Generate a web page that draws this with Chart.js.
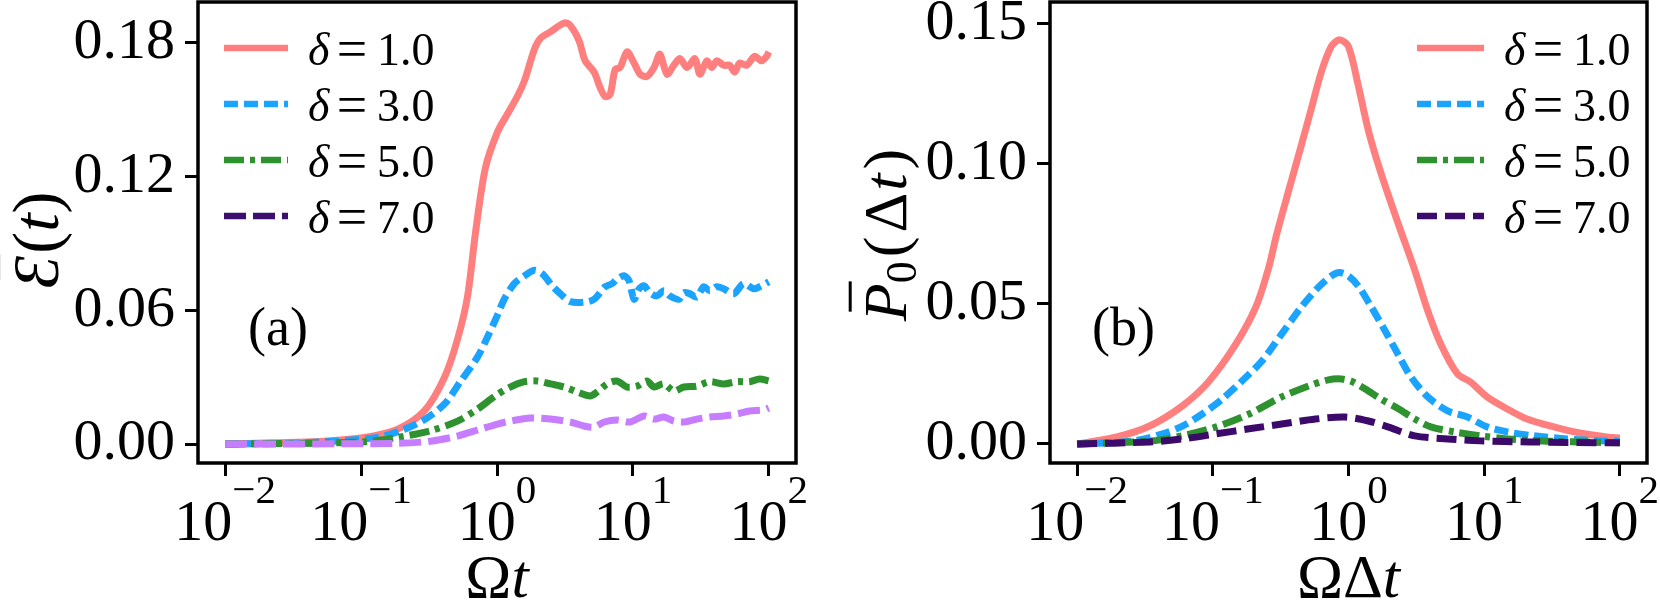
<!DOCTYPE html>
<html>
<head>
<meta charset="utf-8">
<script src="https://cdn.jsdelivr.net/npm/chart.js@4.4.0/dist/chart.umd.min.js"></script>
<style>
  html, body { margin: 0; padding: 0; background: #fff; }
  #wrap { position: relative; width: 1660px; height: 600px; overflow: hidden; }
  .panel { position: absolute; top: 0; width: 830px; height: 600px; }
  #panelA { left: 0; }
  #panelB { left: 830px; }
</style>
</head>
<body>
<div id="wrap">
  <div class="panel" id="panelA"><canvas id="chartA" width="830" height="600"></canvas></div>
  <div class="panel" id="panelB"><canvas id="chartB" width="830" height="600"></canvas></div>
</div>
<script>
// ticks
const xTicks = [0.01, 0.1, 1, 10, 100];
const xExp = ['\u22122', '\u22121', '0', '1', '2'];
const yTicksA = [0, 0.06, 0.12, 0.18];
const yTicksB = [0, 0.05, 0.10, 0.15];
const deltas = ['1.0', '3.0', '5.0', '7.0'];

// panel (a): energy vs Omega t
const aX1 = [0.01, 0.0221, 0.0498, 0.106, 0.186, 0.293, 0.411, 0.512, 0.606, 0.695, 0.822, 1.007, 1.19, 1.41, 1.59, 1.88, 2.08, 2.47, 3.12, 3.45, 4.02, 4.45, 5.18, 5.74, 6.24, 6.80, 7.39, 8.04, 9.05, 10.2, 11.3, 12.7, 14.3, 15.8, 17.8, 20.0, 22.2, 25.0, 28.6, 31.1, 35.0, 38.0, 41.4, 46.6, 51.5, 56.1, 61.0, 68.7, 78.6, 88.5, 96.3, 100];
const aY1 = [0, 0.0006, 0.0012, 0.003, 0.0067, 0.015, 0.030, 0.047, 0.066, 0.095, 0.124, 0.140, 0.148, 0.156, 0.163, 0.177, 0.182, 0.185, 0.189, 0.188, 0.181, 0.172, 0.167, 0.160, 0.156, 0.157, 0.168, 0.169, 0.176, 0.171, 0.166, 0.165, 0.169, 0.175, 0.166, 0.170, 0.173, 0.169, 0.173, 0.166, 0.172, 0.169, 0.172, 0.170, 0.170, 0.167, 0.171, 0.170, 0.174, 0.172, 0.174, 0.176];
const aX3 = [0.01, 0.0355, 0.133, 0.209, 0.293, 0.411, 0.538, 0.718, 0.851, 1.01, 1.13, 1.34, 1.59, 1.88, 2.15, 2.55, 2.92, 3.45, 4.37, 5.18, 6.24, 7.03, 7.64, 8.61, 9.36, 10.2, 11.1, 12.1, 13.3, 15.0, 16.9, 18.7, 21.8, 23.7, 26.2, 29.5, 33.2, 36.8, 41.4, 46.6, 55.2, 65.3, 77.3, 85.5, 100];
const aY3 = [0, 0.0005, 0.003, 0.0067, 0.011, 0.018, 0.028, 0.039, 0.048, 0.058, 0.065, 0.072, 0.0755, 0.078, 0.0765, 0.071, 0.0675, 0.064, 0.0637, 0.065, 0.0706, 0.072, 0.074, 0.0755, 0.0733, 0.065, 0.0697, 0.071, 0.068, 0.0665, 0.0688, 0.0665, 0.065, 0.068, 0.0675, 0.066, 0.0706, 0.0688, 0.0706, 0.0697, 0.0675, 0.072, 0.0697, 0.0706, 0.0728];
const aX5 = [0.01, 0.0355, 0.106, 0.186, 0.324, 0.512, 0.718, 0.972, 1.25, 1.59, 1.98, 2.47, 3.12, 3.89, 4.84, 5.46, 6.46, 7.64, 9.05, 10.7, 12.7, 14.3, 16.9, 20.0, 23.7, 29.5, 36.8, 46.6, 58.1, 72.3, 85.5, 100];
const aY5 = [0, 0.0003, 0.001, 0.003, 0.006, 0.0103, 0.0157, 0.0216, 0.0256, 0.028, 0.0283, 0.027, 0.0256, 0.0234, 0.0216, 0.0234, 0.027, 0.0283, 0.0256, 0.026, 0.0283, 0.0256, 0.027, 0.0238, 0.0256, 0.026, 0.028, 0.027, 0.028, 0.028, 0.0292, 0.0283];
const aX7 = [0.01, 0.186, 0.324, 0.512, 0.755, 1.01, 1.25, 1.76, 2.47, 3.45, 4.37, 5.18, 6.14, 7.64, 9.52, 12.1, 14.3, 16.9, 20.0, 23.7, 29.5, 36.8, 46.6, 58.1, 72.3, 91.6, 100];
const aY7 = [0, 0.0003, 0.0013, 0.0036, 0.0067, 0.009, 0.0103, 0.0117, 0.0112, 0.0099, 0.0081, 0.0076, 0.0099, 0.0108, 0.0099, 0.0126, 0.0112, 0.0121, 0.0103, 0.0099, 0.0112, 0.0121, 0.0126, 0.0135, 0.0148, 0.0153, 0.0162];

// panel (b): P0 vs Omega delta t
const bX1 = [0.01, 0.0196, 0.0342, 0.0597, 0.0941, 0.148, 0.208, 0.259, 0.296, 0.362, 0.451, 0.534, 0.632, 0.748, 0.857, 0.997, 1.18, 1.40, 1.74, 2.35, 3.08, 3.84, 4.78, 6.36, 7.93, 10.5, 14.8, 20.7, 32.6, 50.6, 79.7, 100];
const bY1 = [0, 0.0025, 0.0064, 0.0136, 0.0225, 0.0357, 0.049, 0.0632, 0.075, 0.0904, 0.107, 0.120, 0.133, 0.142, 0.1443, 0.142, 0.128, 0.112, 0.0965, 0.078, 0.062, 0.0475, 0.0357, 0.025, 0.0221, 0.0168, 0.0125, 0.0089, 0.0061, 0.0039, 0.0025, 0.0021];
const bX3 = [0.01, 0.0257, 0.0427, 0.0597, 0.0836, 0.117, 0.164, 0.230, 0.322, 0.451, 0.601, 0.748, 0.857, 0.997, 1.18, 1.47, 1.86, 2.32, 2.88, 3.84, 5.38, 7.53, 10.5, 14.8, 23.3, 40.6, 70.9, 100];
const bY3 = [0, 0.001, 0.0036, 0.0064, 0.0107, 0.016, 0.0225, 0.0296, 0.0393, 0.049, 0.056, 0.060, 0.0612, 0.060, 0.0564, 0.049, 0.0404, 0.032, 0.024, 0.0168, 0.0118, 0.0096, 0.0061, 0.0043, 0.0029, 0.0018, 0.0011, 0.001];
const bX5 = [0.01, 0.0342, 0.0597, 0.106, 0.185, 0.322, 0.508, 0.711, 0.885, 1.05, 1.33, 1.74, 2.35, 3.08, 4.04, 6.05, 9.38, 14.8, 29.0, 100];
const bY5 = [0, 0.001, 0.0029, 0.0061, 0.0107, 0.0168, 0.0207, 0.0229, 0.0232, 0.0224, 0.0196, 0.016, 0.0125, 0.0089, 0.0061, 0.0043, 0.0029, 0.0018, 0.001, 0.0004];
const bX7 = [0.01, 0.0342, 0.0597, 0.106, 0.185, 0.322, 0.571, 0.948, 1.40, 1.95, 3.08, 5.38, 9.38, 21.8, 100];
const bY7 = [0, 0.0007, 0.0018, 0.0036, 0.0054, 0.0071, 0.0089, 0.0096, 0.0082, 0.0061, 0.0029, 0.0018, 0.0011, 0.0007, 0.0004];

const serif = "'Liberation Serif', 'Times New Roman', serif";

function pts(xs, ys) {
    return xs.map((x, i) => ({ x: x, y: ys[i] }));
}

function line(label, data, color, dash, order) {
    return {
        label: label, data: data, borderColor: color, borderWidth: 7,
        borderDash: dash, pointRadius: 0, tension: 0.3, fill: false,
        borderJoinStyle: 'round', order: order
    };
}

// draw text made of several pieces (italic, sub/superscript, bar)
function drawRich(ctx, parts, x, y, align) {
    let w = 0;
    parts.forEach(p => {
        ctx.font = (p.italic ? 'italic ' : '') + p.size + 'px ' + serif;
        p.w = ctx.measureText(p.t).width;
        w += p.w + (p.gap || 0);
    });
    let cx = align === 'center' ? x - w / 2 : x;
    ctx.textAlign = 'left';
    ctx.textBaseline = 'alphabetic';
    parts.forEach(p => {
        ctx.font = (p.italic ? 'italic ' : '') + p.size + 'px ' + serif;
        ctx.fillText(p.t, cx, y + (p.dy || 0));
        if (p.bar) {
            ctx.save();
            ctx.lineWidth = 3;
            ctx.beginPath();
            ctx.moveTo(cx + p.w * 0.25, y - p.size * 0.9);
            ctx.lineTo(cx + p.w * 1.05, y - p.size * 0.9);
            ctx.stroke();
            ctx.restore();
        }
        cx += p.w + (p.gap || 0);
    });
}

const decor = {
    id: 'decor',
    afterDraw(chart, args, o) {
        const ctx = chart.ctx, area = chart.chartArea, xs = chart.scales.x;
        ctx.save();
        ctx.fillStyle = '#000';
        ctx.strokeStyle = '#000';
        // frame
        ctx.lineWidth = 3.5;
        ctx.strokeRect(area.left, area.top, area.right - area.left, area.bottom - area.top);
        // log tick labels
        xTicks.forEach((v, i) => {
            const px = xs.getPixelForValue(v);
            drawRich(ctx, [{ t: '10', size: 58 }, { t: xExp[i], size: 41, dy: -37 }], px, 540, 'center');
        });
        // axis titles
        drawRich(ctx, o.xTitle, (area.left + area.right) / 2, 597, 'center');
        ctx.save();
        ctx.translate(o.yTitleX, o.yTitleY);
        ctx.rotate(-Math.PI / 2);
        drawRich(ctx, o.yTitle, 0, 0, 'center');
        ctx.restore();
        // panel letter
        ctx.font = '54px ' + serif;
        ctx.textAlign = 'left';
        ctx.fillText(o.letter, o.letterX, 345);
        // legend
        chart.data.datasets.forEach((ds, i) => {
            const y = o.rows[i];
            ctx.save();
            ctx.strokeStyle = o.legendColors[i];
            ctx.lineWidth = 6.5;
            ctx.setLineDash(ds.borderDash || []);
            ctx.beginPath();
            ctx.moveTo(o.lineX0, y);
            ctx.lineTo(o.lineX1, y);
            ctx.stroke();
            ctx.restore();
            ctx.font = 'italic 46px ' + serif;
            ctx.textAlign = 'left';
            ctx.fillText('\u03b4', o.textX, y + 17);
            ctx.font = '54px ' + serif;
            ctx.textAlign = 'center';
            ctx.fillText('=', o.textX + 44, y + 19);
            ctx.font = '46px ' + serif;
            ctx.textAlign = 'left';
            ctx.fillText(deltas[i], o.textX + 69, y + 17);
        });
        ctx.restore();
    }
};

function makeChart(id, datasets, yMin, yMax, yTicks, yWidth, padRight, deco) {
    return new Chart(document.getElementById(id).getContext('2d'), {
        type: 'line',
        data: { datasets: datasets },
        plugins: [decor],
        options: {
            responsive: false,
            animation: false,
            layout: { padding: { left: 0, right: padRight, top: 2, bottom: 0 } },
            scales: {
                x: {
                    type: 'logarithmic', bounds: 'data',
                    min: Math.pow(10, -2.2), max: Math.pow(10, 2.2),
                    afterBuildTicks: s => { s.ticks = xTicks.map(v => ({ value: v })); },
                    afterFit: s => { s.height = 137; s.paddingLeft = 0; s.paddingRight = 0; },
                    ticks: { display: false },
                    border: { display: false },
                    grid: { drawOnChartArea: false, drawTicks: true, tickLength: 13, tickWidth: 3, tickColor: '#000' }
                },
                y: {
                    type: 'linear', bounds: 'data', min: yMin, max: yMax,
                    afterBuildTicks: s => { s.ticks = yTicks.map(v => ({ value: v })); },
                    afterFit: s => { s.width = yWidth; s.paddingTop = 0; s.paddingBottom = 0; },
                    ticks: {
                        color: '#000', padding: 10,
                        font: { family: serif, size: 58 },
                        callback: v => v.toFixed(2)
                    },
                    border: { display: false },
                    grid: { drawOnChartArea: false, drawTicks: true, tickLength: 13, tickWidth: 3, tickColor: '#000' }
                }
            },
            plugins: {
                legend: { display: false },
                tooltip: { enabled: false },
                decor: deco
            }
        }
    });
}

makeChart('chartA', [
    line('\u03b4 = 1.0', pts(aX1, aY1), '#ff7f7f', [], 4),
    line('\u03b4 = 3.0', pts(aX3, aY3), '#1aa3ff', [14, 6], 3),
    line('\u03b4 = 5.0', pts(aX5, aY5), '#2e932e', [20, 6, 5, 6], 2),
    line('\u03b4 = 7.0', pts(aX7, aY7), '#c77dff', [22, 7], 1)
], -0.0085, 0.1984, yTicksA, 198, 34, {
    xTitle: [{ t: '\u03a9', size: 62 }, { t: 't', size: 62, italic: true }],
    yTitle: [{ t: '\u0190', size: 66, italic: true, bar: true, gap: 2 }, { t: '(', size: 66 }, { t: 't', size: 66, italic: true }, { t: ')', size: 66 }],
    yTitleX: 58, yTitleY: 240,
    letter: '(a)', letterX: 248,
    rows: [48, 104, 160, 216],
    lineX0: 224, lineX1: 288, textX: 308,
    legendColors: ['#ff7f7f', '#1aa3ff', '#2e932e', '#3c0f6e']
});

makeChart('chartB', [
    line('\u03b4 = 1.0', pts(bX1, bY1), '#ff7f7f', [], 4),
    line('\u03b4 = 3.0', pts(bX3, bY3), '#1aa3ff', [14, 6], 3),
    line('\u03b4 = 5.0', pts(bX5, bY5), '#2e932e', [20, 6, 5, 6], 2),
    line('\u03b4 = 7.0', pts(bX7, bY7), '#3c0a6a', [20, 8], 1)
], -0.0068, 0.1578, yTicksB, 220, 13, {
    xTitle: [{ t: '\u03a9', size: 62 }, { t: '\u0394', size: 62 }, { t: 't', size: 62, italic: true }],
    yTitle: [{ t: 'P', size: 62, italic: true, bar: true }, { t: '0', size: 44, dy: 10, gap: 4 }, { t: '(', size: 62, gap: 4 }, { t: '\u0394', size: 62, gap: 2 }, { t: 't', size: 62, italic: true, gap: 4 }, { t: ')', size: 62 }],
    yTitleX: 76, yTitleY: 235,
    letter: '(b)', letterX: 262,
    rows: [48, 104, 160, 216],
    lineX0: 587, lineX1: 654, textX: 674,
    legendColors: ['#ff7f7f', '#1aa3ff', '#2e932e', '#3c0a6a']
});
</script>
</body>
</html>
